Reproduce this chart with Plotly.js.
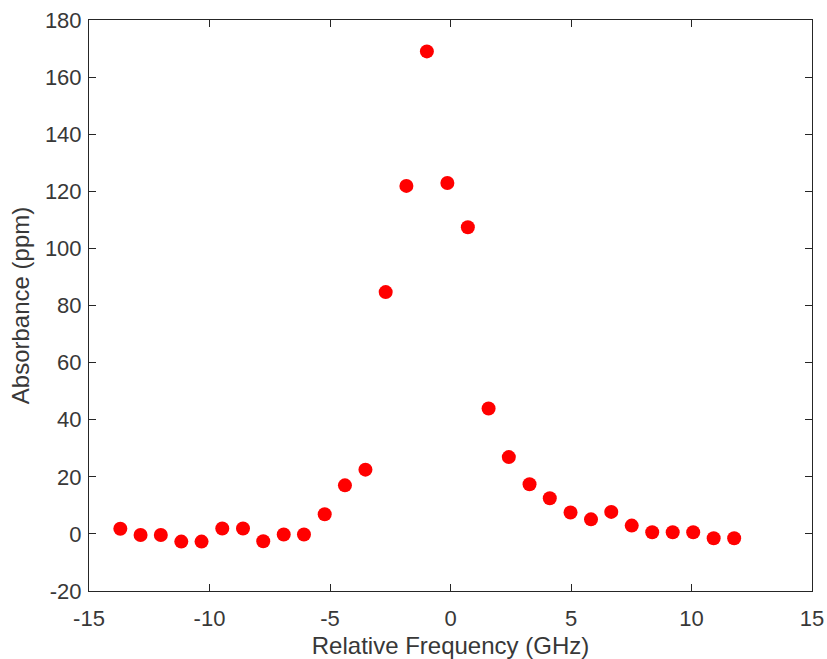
<!DOCTYPE html>
<html>
<head>
<meta charset="utf-8">
<script src="https://cdn.plot.ly/plotly-3.0.1.min.js"></script>
<style>
html,body{margin:0;padding:0;background:#fff;}
#chart{width:827px;height:659px;}
</style>
</head>
<body>
<div id="chart"></div>
<script>
const freqGHz = [-13.70, -12.86, -12.02, -11.17, -10.33, -9.47, -8.61, -7.77, -6.92, -6.08,
                 -5.22, -4.38, -3.53, -2.69, -1.83, -0.98, -0.13, 0.72, 1.58, 2.42,
                 3.28, 4.12, 4.98, 5.83, 6.67, 7.52, 8.37, 9.22, 10.07, 10.92, 11.77];
const absorbancePpm = [1.8, -0.4, -0.4, -2.7, -2.7, 1.9, 1.9, -2.6, -0.2, -0.2,
                       6.9, 17.0, 22.5, 84.7, 121.9, 169.0, 122.9, 107.4, 43.9, 26.9,
                       17.4, 12.5, 7.5, 5.1, 7.7, 2.9, 0.6, 0.6, 0.6, -1.5, -1.5];
const xTicks = [-15, -10, -5, 0, 5, 10, 15];
const yTicks = [-20, 0, 20, 40, 60, 80, 100, 120, 140, 160, 180];

const textColor = '#262626';
const labelColor = '#383838';
const font = {family: 'Liberation Sans, Arial, sans-serif', size: 22, color: labelColor};

const trace = {
  x: freqGHz,
  y: absorbancePpm,
  type: 'scatter',
  mode: 'markers',
  marker: {color: '#ff0000', size: 14, line: {width: 0}},
  hoverinfo: 'x+y'
};

const axisCommon = {
  showgrid: false,
  zeroline: false,
  showline: true,
  linecolor: textColor,
  linewidth: 1,
  mirror: 'ticks',
  ticks: 'inside',
  ticklen: 7,
  tickwidth: 1,
  tickcolor: textColor,
  tickfont: font,
  automargin: false
};

const layout = {
  width: 827,
  height: 659,
  paper_bgcolor: '#fff',
  plot_bgcolor: '#fff',
  showlegend: false,
  margin: {l: 89, r: 15, t: 20, b: 68},
  font: font,
  xaxis: Object.assign({}, axisCommon, {
    range: [-15, 15],
    tickvals: xTicks,
    ticktext: xTicks.map(String),
    ticklabelstandoff: 8,
    title: {text: 'Relative Frequency (GHz)', font: {family: font.family, size: 24, color: labelColor}, standoff: 16}
  }),
  yaxis: Object.assign({}, axisCommon, {
    range: [-20, 180],
    tickvals: yTicks,
    ticktext: yTicks.map(String),
    ticklabelstandoff: 2,
    title: {text: 'Absorbance (ppm)', font: {family: font.family, size: 24, color: labelColor}, standoff: 8}
  })
};

Plotly.newPlot('chart', [trace], layout, {displayModeBar: false, staticPlot: true});
</script>
</body>
</html>
